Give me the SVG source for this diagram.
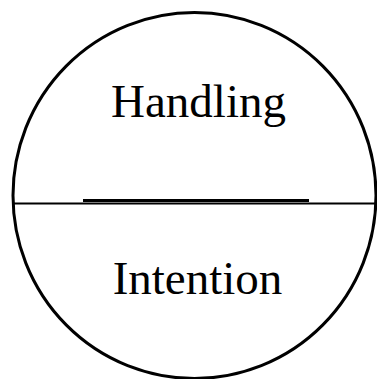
<svg xmlns="http://www.w3.org/2000/svg" width="377" height="379" viewBox="0 0 377 379">
<style>
.lbl{font-family:"Liberation Serif","Times New Roman",serif;font-size:47px;fill:#000;text-anchor:middle}
</style>
<rect width="377" height="379" fill="#fff"/>
<g id="circle-node">
<ellipse cx="194.5" cy="195.5" rx="181.5" ry="183" fill="none" stroke="#000" stroke-width="3"/>
</g>
<g id="connectors">
<line x1="13" y1="203.5" x2="375" y2="203.5" stroke="#000" stroke-width="2"/>
<line x1="83" y1="200.5" x2="309" y2="200.5" stroke="#000" stroke-width="3"/>
</g>
<g id="handling">
<text class="lbl" x="198.5" y="117">Handling</text>
</g>
<g id="intention">
<text class="lbl" x="197.5" y="294">Intention</text>
</g>
</svg>
